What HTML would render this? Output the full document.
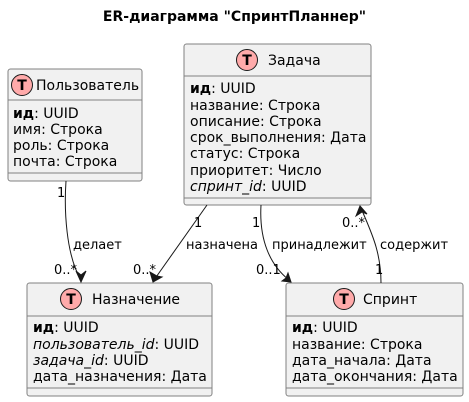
<!DOCTYPE html>
<html><head><meta charset="utf-8"><style>
html,body{margin:0;padding:0;background:#fff;}
svg{display:block;font-family:"DejaVu Sans","Liberation Sans",sans-serif;}
text{font-size:14px;fill:#000;}
.box{fill:#f1f1f1;stroke:#818181;stroke-width:1;}
.sep{stroke:#818181;stroke-width:1;}
.ln{fill:none;stroke:#181818;stroke-width:1;}
.ah{fill:#181818;stroke:#181818;stroke-width:1;}
.circ{fill:#ffaaaa;stroke:#181818;stroke-width:1;}
.T{font-size:14px;font-weight:bold;text-anchor:middle;}
.lbl{font-size:13px;}
</style></head><body>
<svg width="469" height="402" viewBox="0 0 469 402" xmlns="http://www.w3.org/2000/svg">
<text x="234.5" y="21" text-anchor="middle" style="font-weight:bold;font-size:14px">ER-диаграмма "СпринтПланнер"</text>

<rect class="box" x="8" y="69" width="134" height="112" rx="2.5"/>
<circle class="circ" cx="22" cy="85" r="10.5"/>
<text class="T" x="22" y="90">T</text>
<text x="36" y="90">Пользователь</text>
<line class="sep" x1="8" y1="100" x2="142" y2="100"/>
<text x="13" y="118"><tspan font-weight="bold">ид</tspan>: UUID</text>
<text x="13" y="134">имя: Строка</text>
<text x="13" y="150">роль: Строка</text>
<text x="13" y="166">почта: Строка</text>
<line class="sep" x1="8" y1="173" x2="142" y2="173"/>

<rect class="box" x="184" y="44" width="187" height="161" rx="2.5"/>
<circle class="circ" cx="247" cy="60" r="10.5"/>
<text class="T" x="247" y="65">T</text>
<text x="268" y="65">Задача</text>
<line class="sep" x1="184" y1="76" x2="371" y2="76"/>
<text x="190" y="93"><tspan font-weight="bold">ид</tspan>: UUID</text>
<text x="190" y="110">название: Строка</text>
<text x="190" y="126">описание: Строка</text>
<text x="190" y="142">срок_выполнения: Дата</text>
<text x="190" y="158">статус: Строка</text>
<text x="190" y="175">приоритет: Число</text>
<text x="190" y="191"><tspan font-style="italic">спринт_id</tspan>: UUID</text>
<line class="sep" x1="184" y1="198" x2="371" y2="198"/>

<rect class="box" x="27" y="283" width="185" height="113" rx="2.5"/>
<circle class="circ" cx="71" cy="299" r="10.5"/>
<text class="T" x="71" y="304">T</text>
<text x="92" y="304">Назначение</text>
<line class="sep" x1="27" y1="316" x2="212" y2="316"/>
<text x="33" y="332"><tspan font-weight="bold">ид</tspan>: UUID</text>
<text x="33" y="349"><tspan font-style="italic">пользователь_id</tspan>: UUID</text>
<text x="33" y="365"><tspan font-style="italic">задача_id</tspan>: UUID</text>
<text x="33" y="381">дата_назначения: Дата</text>
<line class="sep" x1="27" y1="388" x2="212" y2="388"/>

<rect class="box" x="286" y="283" width="177" height="113" rx="2.5"/>
<circle class="circ" cx="344" cy="299" r="10.5"/>
<text class="T" x="344" y="304">T</text>
<text x="363" y="304">Спринт</text>
<line class="sep" x1="286" y1="316" x2="463" y2="316"/>
<text x="292" y="332"><tspan font-weight="bold">ид</tspan>: UUID</text>
<text x="292" y="349">название: Строка</text>
<text x="292" y="365">дата_начала: Дата</text>
<text x="292" y="381">дата_окончания: Дата</text>
<line class="sep" x1="286" y1="388" x2="463" y2="388"/>

<path class="ln" d="M66,181 C64,210 66,255 81,280"/>
<path class="ah" d="M76,271 L81,282 L86,271 L81,275 Z"/>
<text class="lbl" x="57" y="197">1</text>
<text class="lbl" x="73" y="249">делает</text>
<text class="lbl" x="54" y="274">0..*</text>

<path class="ln" d="M207,205 L154,280"/>
<path class="ah" d="M150,272 L153,282 L162,277 L157,276 Z"/>
<text class="lbl" x="194" y="227">1</text>
<text class="lbl" x="186" y="249">назначена</text>
<text class="lbl" x="133" y="274">0..*</text>

<path class="ln" d="M261,205 C259,240 270,265 289,280"/>
<path class="ah" d="M282,281 L291,282 L288,273 L286,278 Z"/>
<text class="lbl" x="252" y="227">1</text>
<text class="lbl" x="272" y="249">принадлежит</text>
<text class="lbl" x="256" y="274">0..1</text>

<path class="ln" d="M381,283 C381,250 370,230 361,208"/>
<path class="ah" d="M356,216 L360,206 L367,214 L362,212 Z"/>
<text class="lbl" x="342" y="227">0..*</text>
<text class="lbl" x="380" y="249">содержит</text>
<text class="lbl" x="375" y="274">1</text>
</svg>
</body></html>
